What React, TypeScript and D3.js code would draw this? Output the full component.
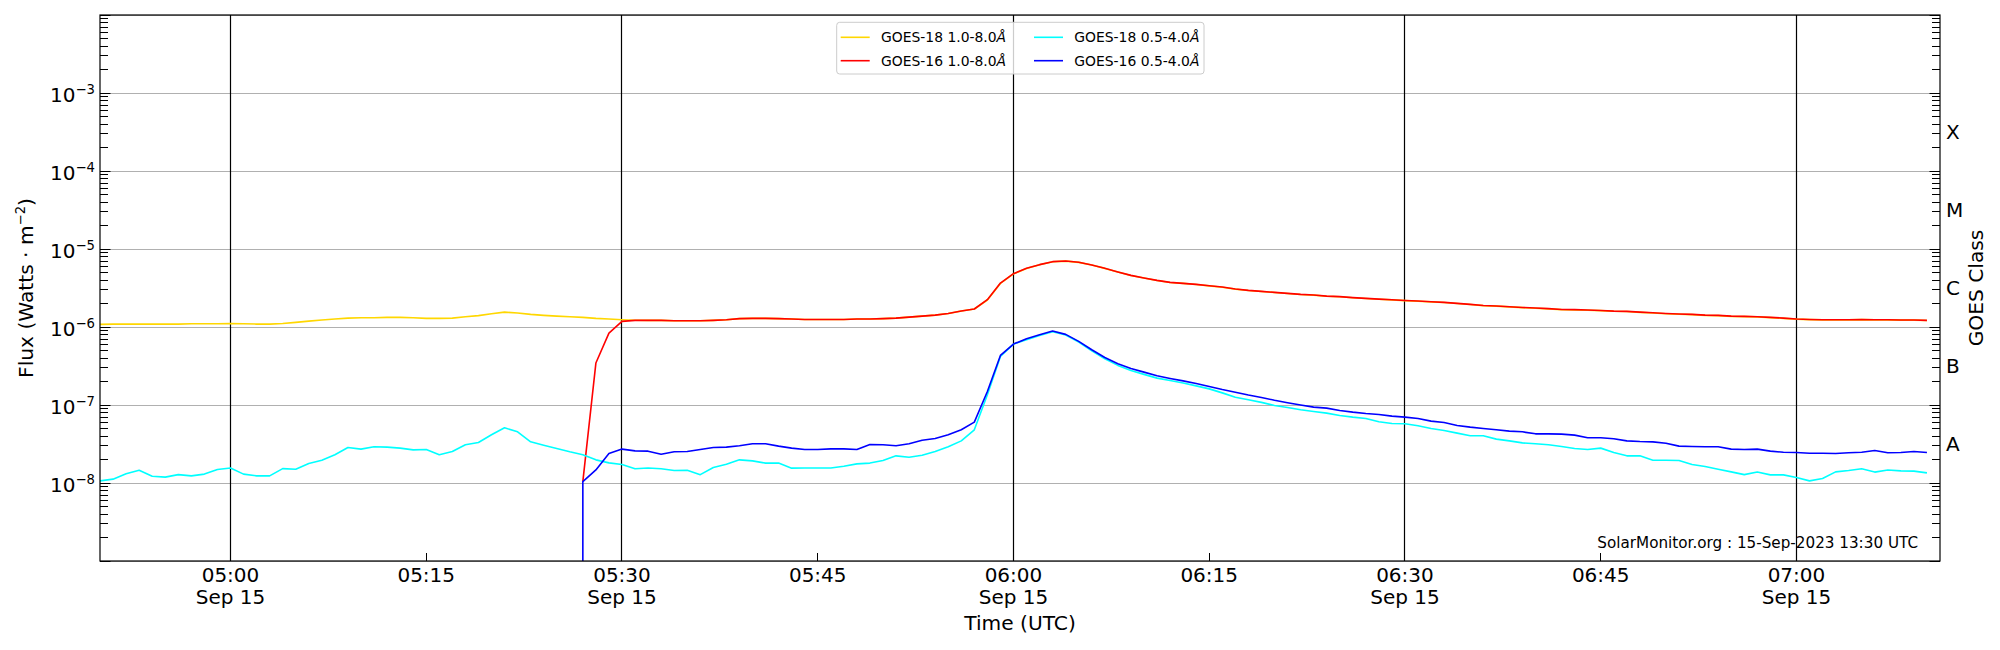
import * as d3 from "d3";

// GOES XRS 1-minute fluxes, 15 Sep 2023 (W m^-2)
const goes18Start = new Date("2023-09-15T04:50:00Z");
const goes16Start = new Date("2023-09-15T05:27:00Z");
const timeDomain = [new Date("2023-09-15T04:50:00Z"), new Date("2023-09-15T07:11:00Z")];

const goes18Long = [
  1.08e-6, 1.09e-6, 1.09e-6, 1.09e-6, 1.09e-6, 1.09e-6, 1.09e-6, 1.1e-6, 1.1e-6, 1.1e-6,
  1.11e-6, 1.1e-6, 1.09e-6, 1.09e-6, 1.11e-6, 1.145e-6, 1.19e-6, 1.23e-6, 1.265e-6, 1.3e-6,
  1.315e-6, 1.315e-6, 1.33e-6, 1.33e-6, 1.315e-6, 1.29e-6, 1.29e-6, 1.3e-6, 1.355e-6, 1.4e-6,
  1.48e-6, 1.55e-6, 1.51e-6, 1.45e-6, 1.41e-6, 1.38e-6, 1.355e-6, 1.33e-6, 1.29e-6, 1.265e-6,
  1.24e-6, 1.22e-6, 1.215e-6, 1.215e-6, 1.2e-6, 1.2e-6, 1.2e-6, 1.215e-6, 1.24e-6, 1.28e-6,
  1.29e-6, 1.29e-6, 1.28e-6, 1.265e-6, 1.25e-6, 1.25e-6, 1.25e-6, 1.25e-6, 1.265e-6, 1.265e-6,
  1.28e-6, 1.3e-6, 1.34e-6, 1.38e-6, 1.42e-6, 1.49e-6, 1.6e-6, 1.7e-6, 2.22e-6, 3.62e-6,
  4.8e-6, 5.62e-6, 6.28e-6, 6.86e-6, 7.0e-6, 6.74e-6, 6.22e-6, 5.64e-6, 5.06e-6, 4.58e-6,
  4.24e-6, 3.95e-6, 3.72e-6, 3.62e-6, 3.51e-6, 3.37e-6, 3.24e-6, 3.06e-6, 2.94e-6, 2.85e-6,
  2.77e-6, 2.69e-6, 2.61e-6, 2.56e-6, 2.48e-6, 2.44e-6, 2.37e-6, 2.32e-6, 2.27e-6, 2.23e-6,
  2.18e-6, 2.14e-6, 2.1e-6, 2.06e-6, 2.0e-6, 1.94e-6, 1.88e-6, 1.85e-6, 1.81e-6, 1.77e-6,
  1.74e-6, 1.71e-6, 1.67e-6, 1.66e-6, 1.64e-6, 1.62e-6, 1.59e-6, 1.58e-6, 1.54e-6, 1.51e-6,
  1.48e-6, 1.46e-6, 1.44e-6, 1.41e-6, 1.4e-6, 1.37e-6, 1.36e-6, 1.35e-6, 1.32e-6, 1.29e-6,
  1.26e-6, 1.245e-6, 1.235e-6, 1.235e-6, 1.235e-6, 1.245e-6, 1.235e-6, 1.235e-6, 1.225e-6, 1.225e-6, 1.21e-6,
];

const goes16Long = [
  1.04e-8, 3.45e-7, 8.36e-7,
  1.18e-6, 1.215e-6, 1.215e-6, 1.215e-6, 1.2e-6, 1.2e-6, 1.2e-6, 1.215e-6, 1.24e-6, 1.28e-6,
  1.29e-6, 1.29e-6, 1.28e-6, 1.265e-6, 1.25e-6, 1.25e-6, 1.25e-6, 1.25e-6, 1.265e-6, 1.265e-6,
  1.28e-6, 1.3e-6, 1.34e-6, 1.38e-6, 1.42e-6, 1.49e-6, 1.6e-6, 1.7e-6, 2.24e-6, 3.66e-6,
  4.83e-6, 5.65e-6, 6.3e-6, 6.88e-6, 7.02e-6, 6.75e-6, 6.23e-6, 5.65e-6, 5.07e-6, 4.59e-6,
  4.25e-6, 3.96e-6, 3.73e-6, 3.63e-6, 3.52e-6, 3.38e-6, 3.25e-6, 3.07e-6, 2.95e-6, 2.86e-6,
  2.78e-6, 2.7e-6, 2.62e-6, 2.57e-6, 2.49e-6, 2.45e-6, 2.38e-6, 2.33e-6, 2.28e-6, 2.24e-6,
  2.19e-6, 2.15e-6, 2.11e-6, 2.07e-6, 2.01e-6, 1.95e-6, 1.89e-6, 1.86e-6, 1.82e-6, 1.78e-6,
  1.75e-6, 1.72e-6, 1.68e-6, 1.67e-6, 1.65e-6, 1.63e-6, 1.6e-6, 1.585e-6, 1.55e-6, 1.52e-6,
  1.49e-6, 1.47e-6, 1.45e-6, 1.42e-6, 1.41e-6, 1.38e-6, 1.37e-6, 1.355e-6, 1.33e-6, 1.3e-6,
  1.265e-6, 1.25e-6, 1.24e-6, 1.24e-6, 1.24e-6, 1.25e-6, 1.24e-6, 1.24e-6, 1.23e-6, 1.23e-6, 1.215e-6,
];

const goes18Short = [
  1.065e-8, 1.12e-8, 1.31e-8, 1.46e-8, 1.22e-8, 1.19e-8, 1.28e-8, 1.235e-8, 1.3e-8, 1.49e-8,
  1.56e-8, 1.3e-8, 1.235e-8, 1.235e-8, 1.53e-8, 1.5e-8, 1.78e-8, 1.96e-8, 2.3e-8, 2.85e-8,
  2.72e-8, 2.91e-8, 2.88e-8, 2.8e-8, 2.66e-8, 2.69e-8, 2.3e-8, 2.53e-8, 3.09e-8, 3.31e-8,
  4.15e-8, 5.1e-8, 4.53e-8, 3.37e-8, 3.05e-8, 2.77e-8, 2.51e-8, 2.3e-8, 1.98e-8, 1.81e-8,
  1.73e-8, 1.52e-8, 1.56e-8, 1.52e-8, 1.445e-8, 1.46e-8, 1.28e-8, 1.58e-8, 1.74e-8, 1.98e-8,
  1.92e-8, 1.8e-8, 1.8e-8, 1.55e-8, 1.56e-8, 1.56e-8, 1.56e-8, 1.64e-8, 1.76e-8, 1.8e-8,
  1.94e-8, 2.23e-8, 2.14e-8, 2.27e-8, 2.53e-8, 2.91e-8, 3.47e-8, 4.81e-8, 1.35e-7, 4.2e-7,
  6.04e-7, 6.87e-7, 7.8e-7, 8.7e-7, 7.88e-7, 6.41e-7, 4.96e-7, 3.92e-7, 3.22e-7, 2.77e-7,
  2.47e-7, 2.21e-7, 2.06e-7, 1.91e-7, 1.76e-7, 1.61e-7, 1.43e-7, 1.26e-7, 1.17e-7, 1.08e-7,
  9.86e-8, 9.3e-8, 8.68e-8, 8.26e-8, 7.86e-8, 7.34e-8, 6.99e-8, 6.72e-8, 6.09e-8, 5.8e-8,
  5.74e-8, 5.41e-8, 5.0e-8, 4.71e-8, 4.36e-8, 4.03e-8, 4.03e-8, 3.65e-8, 3.47e-8, 3.27e-8,
  3.18e-8, 3.09e-8, 2.94e-8, 2.77e-8, 2.69e-8, 2.8e-8, 2.46e-8, 2.23e-8, 2.23e-8, 1.96e-8,
  1.96e-8, 1.94e-8, 1.73e-8, 1.625e-8, 1.5e-8, 1.39e-8, 1.28e-8, 1.38e-8, 1.27e-8, 1.27e-8,
  1.175e-8, 1.065e-8, 1.14e-8, 1.39e-8, 1.445e-8, 1.52e-8, 1.38e-8, 1.47e-8, 1.43e-8, 1.42e-8, 1.35e-8,
];

// first GOES-16 short channel sample is a dropout below the axis
const goes16ShortDropout = 1e-10;
const goes16Short = [
  1.04e-8, 1.47e-8, 2.39e-8,
  2.72e-8, 2.58e-8, 2.56e-8, 2.34e-8, 2.51e-8, 2.53e-8, 2.69e-8, 2.85e-8, 2.88e-8, 3.0e-8,
  3.18e-8, 3.18e-8, 2.97e-8, 2.8e-8, 2.69e-8, 2.69e-8, 2.74e-8, 2.74e-8, 2.69e-8, 3.12e-8,
  3.09e-8, 3.0e-8, 3.18e-8, 3.54e-8, 3.72e-8, 4.15e-8, 4.81e-8, 6.03e-8, 1.49e-7, 4.32e-7,
  6.04e-7, 7.07e-7, 7.96e-7, 8.87e-7, 8.04e-7, 6.54e-7, 5.11e-7, 4.07e-7, 3.38e-7, 2.94e-7,
  2.64e-7, 2.37e-7, 2.19e-7, 2.04e-7, 1.89e-7, 1.73e-7, 1.58e-7, 1.46e-7, 1.34e-7, 1.25e-7,
  1.15e-7, 1.07e-7, 1.0e-7, 9.39e-8, 9.12e-8, 8.51e-8, 8.1e-8, 7.79e-8, 7.56e-8, 7.2e-8,
  6.99e-8, 6.72e-8, 6.21e-8, 5.97e-8, 5.46e-8, 5.2e-8, 5.0e-8, 4.81e-8, 4.62e-8, 4.53e-8,
  4.27e-8, 4.27e-8, 4.23e-8, 4.11e-8, 3.8e-8, 3.8e-8, 3.69e-8, 3.47e-8, 3.4e-8, 3.37e-8,
  3.24e-8, 2.97e-8, 2.94e-8, 2.91e-8, 2.91e-8, 2.72e-8, 2.69e-8, 2.72e-8, 2.56e-8, 2.48e-8,
  2.46e-8, 2.41e-8, 2.41e-8, 2.39e-8, 2.44e-8, 2.48e-8, 2.61e-8, 2.44e-8, 2.46e-8, 2.53e-8, 2.46e-8,
];

const yExponents = [-8, -7, -6, -5, -4, -3];
const goesClasses = ["A", "B", "C", "M", "X"];
const classLevels = [1e-8, 1e-7, 1e-6, 1e-5, 1e-4];

const W = 2000;
const H = 650;
const plot = { left: 100, right: 1940, top: 15, bottom: 561 };
const font = "DejaVu Sans";
const tickFs = 20;
const supFs = 13.2;

// snap 1px lines to the pixel grid, like matplotlib does
const snap = (v: number) => Math.round(v - 0.5) + 0.5;

type Pt = { t: Date; v: number };
const toPoints = (start: Date, values: number[]): Pt[] =>
  values.map((v, i) => ({ t: d3.utcMinute.offset(start, i), v }));

const series = [
  { name: "GOES-18 1.0-8.0", color: "#FFD700", points: toPoints(goes18Start, goes18Long) },
  { name: "GOES-16 1.0-8.0", color: "#FF0000", points: toPoints(goes16Start, goes16Long) },
  { name: "GOES-18 0.5-4.0", color: "#00FFFF", points: toPoints(goes18Start, goes18Short) },
  {
    name: "GOES-16 0.5-4.0",
    color: "#0000FF",
    points: [{ t: goes16Start, v: goes16ShortDropout }, ...toPoints(goes16Start, goes16Short)],
  },
];

export default function App() {
  const x = d3.scaleUtc().domain(timeDomain).range([plot.left, plot.right]);
  const y = d3.scaleLog().domain([1e-9, 1e-2]).range([plot.bottom, plot.top]);

  const line = d3
    .line<Pt>()
    .x((d) => x(d.t))
    .y((d) => y(d.v));

  const logTicks = y.ticks();
  const isDecade = (v: number) => Math.abs(Math.log10(v) - Math.round(Math.log10(v))) < 1e-6;
  const majorTicks = logTicks.filter((v) => isDecade(v));

  const xTicks = x.ticks(d3.utcMinute.every(15)!);
  const halfHours = x.ticks(d3.utcMinute.every(30)!);
  const fmtTime = d3.utcFormat("%H:%M");
  const fmtDay = d3.utcFormat("%b %d");

  const legendCols = [840.7, 1034];
  const legendRows = [37.3, 60.7];

  return (
    <>
      <style>{"body{margin:0}"}</style>
      <svg width={W} height={H} style={{ display: "block", background: "#fff" }} fontFamily={font}>
        <defs>
          <clipPath id="plotClip">
            <rect x={plot.left} y={plot.top} width={plot.right - plot.left} height={plot.bottom - plot.top} />
          </clipPath>
        </defs>

        {/* horizontal grid at decades */}
        {majorTicks.map((v) => (
          <line key={"g" + v} x1={plot.left} x2={plot.right} y1={snap(y(v))} y2={snap(y(v))} stroke="#b0b0b0" strokeWidth={1} />
        ))}

        {/* black lines every half hour */}
        {halfHours.map((t) => (
          <line
            key={"v" + t.getTime()}
            x1={snap(x(t))}
            x2={snap(x(t))}
            y1={plot.top}
            y2={plot.bottom}
            stroke="#000"
            strokeWidth={1.2}
          />
        ))}

        <g clipPath="url(#plotClip)" fill="none" strokeWidth={1.6} strokeLinejoin="round">
          {series.map((s) => (
            <path key={s.name} d={line(s.points) ?? ""} stroke={s.color} />
          ))}
        </g>

        {/* y ticks, both sides, pointing in */}
        {logTicks.map((v) => {
          const len = isDecade(v) ? 10.5 : 8;
          const py = snap(y(v));
          return (
            <g key={"t" + v} stroke="#000" strokeWidth={1}>
              <line x1={plot.left} x2={plot.left + len} y1={py} y2={py} />
              <line x1={plot.right} x2={plot.right - len} y1={py} y2={py} />
            </g>
          );
        })}

        {/* y tick labels */}
        {yExponents.map((e) => (
          <text key={"yl" + e} x={95} y={y(Math.pow(10, e)) + 9} textAnchor="end" fontSize={tickFs}>
            <tspan>10</tspan>
            <tspan dy={-7.9} fontSize={supFs}>{"\u2212" + Math.abs(e)}</tspan>
          </text>
        ))}

        {/* x ticks and labels */}
        {xTicks.map((t) => {
          const px = x(t);
          const onHalf = t.getUTCMinutes() % 30 === 0;
          return (
            <g key={"x" + t.getTime()}>
              <line x1={snap(px)} x2={snap(px)} y1={plot.bottom} y2={plot.bottom - 8} stroke="#000" strokeWidth={1} />
              <text x={px} y={581.8} textAnchor="middle" fontSize={tickFs}>
                {fmtTime(t)}
              </text>
              {onHalf && (
                <text x={px} y={604.3} textAnchor="middle" fontSize={tickFs}>
                  {fmtDay(t)}
                </text>
              )}
            </g>
          );
        })}

        {/* GOES class labels on right, mid-decade */}
        {goesClasses.map((c, i) => (
          <text key={c} x={1946} y={y(Math.sqrt(classLevels[i] * classLevels[i] * 10)) + 7.3} fontSize={tickFs}>
            {c}
          </text>
        ))}

        {/* axis titles */}
        <text x={(plot.left + plot.right) / 2} y={630} textAnchor="middle" fontSize={20.2}>
          Time (UTC)
        </text>
        <text
          transform={`translate(32.5,${(plot.top + plot.bottom) / 2}) rotate(-90)`}
          textAnchor="middle"
          fontSize={20.2}
        >
          <tspan>Flux (Watts · m</tspan>
          <tspan dy={-7.9} fontSize={supFs}>{"\u22122"}</tspan>
          <tspan dy={7.9}>)</tspan>
        </text>
        <text
          transform={`translate(1983,${(plot.top + plot.bottom) / 2}) rotate(-90)`}
          textAnchor="middle"
          fontSize={20.2}
        >
          GOES Class
        </text>

        {/* watermark */}
        <text x={1918} y={548} textAnchor="end" fontSize={15.2}>
          SolarMonitor.org : 15-Sep-2023 13:30 UTC
        </text>

        {/* legend */}
        <rect
          x={836.7}
          y={22.3}
          width={367.3}
          height={51.7}
          rx={3}
          fill="#fff"
          fillOpacity={0.8}
          stroke="#cccccc"
          strokeWidth={1}
        />
        {[
          [0, 0],
          [0, 1],
          [1, 0],
          [1, 1],
        ].map(([col, row], i) => {
          const s = series[i];
          const lx = legendCols[col];
          const ly = legendRows[row];
          return (
            <g key={"lg" + s.name}>
              <line x1={lx} x2={lx + 29} y1={ly} y2={ly} stroke={s.color} strokeWidth={1.6} />
              <text x={lx + 40.3} y={ly + 5.1} fontSize={13.9}>
                {s.name}
                <tspan fontStyle="italic">Å</tspan>
              </text>
            </g>
          );
        })}

        {/* spines */}
        <rect
          x={plot.left}
          y={plot.top}
          width={plot.right - plot.left}
          height={plot.bottom - plot.top}
          fill="none"
          stroke="#000"
          strokeWidth={1.2}
        />
      </svg>
    </>
  );
}
